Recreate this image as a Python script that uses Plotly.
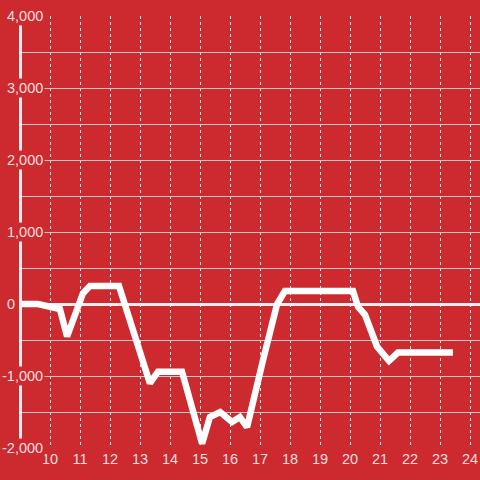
import plotly.graph_objects as go

# ---- data ----
x_vals = [8.9, 9.6, 10.33, 10.57, 11.1, 11.33, 12.3, 13.33, 13.6, 14.4,
          15.07, 15.33, 15.67, 16.07, 16.33, 16.57, 17.1, 17.57, 17.83,
          20.1, 20.27, 20.5, 20.9, 21.17, 21.3, 21.6, 23.43]
y_vals = [0, 0, -70, -450, 150, 250, 250, -1100, -940, -940,
          -1940, -1570, -1500, -1640, -1570, -1710, -780, 0, 180,
          180, -40, -150, -590, -750, -790, -675, -675]

x_ticks = list(range(10, 25))
y_tick_vals = [4000, 3000, 2000, 1000, 0, -1000, -2000]
y_tick_text = ["4,000", "3,000", "2,000", "1,000", "0", "-1,000", "-2,000"]

BG = "#cc2a2f"
LABEL = "rgba(255,255,255,0.86)"
FONT = "Liberation Sans, Arial, sans-serif"

fig = go.Figure()
fig.add_trace(go.Scatter(
    x=x_vals, y=y_vals, mode="lines",
    line=dict(color="#ffffff", width=6.5),
    hoverinfo="skip", showlegend=False,
))

L, R, T, B = 22, 0, 16, 32
W = H = 480
pw = W - L - R

for v, t in zip(y_tick_vals, y_tick_text):
    right_px = 16.5 if t == "0" else 44.5
    fig.add_annotation(
        x=(right_px - L) / pw, xref="paper", xanchor="right",
        y=v, yref="y", yanchor="middle",
        text=t, showarrow=False, bgcolor=BG, borderpad=1,
        font=dict(family=FONT, size=14.5, color=LABEL),
    )

fig.update_layout(
    width=W, height=H,
    margin=dict(l=L, r=R, t=T, b=B),
    paper_bgcolor=BG, plot_bgcolor=BG,
    xaxis=dict(
        range=[10 - 28 / 30, 24 + 10 / 30],
        tickvals=x_ticks, ticktext=[str(v) for v in x_ticks],
        showgrid=True, gridcolor="rgba(255,255,255,0.85)", gridwidth=1, griddash="dot",
        zeroline=False, showline=False, ticks="",
        tickfont=dict(family=FONT, size=14.5, color=LABEL),
        automargin=False,
        fixedrange=True,
    ),
    yaxis=dict(
        range=[-2000, 4000], dtick=500, tick0=0,
        showgrid=True, gridcolor="#c9c9c9", gridwidth=1,
        zeroline=True, zerolinecolor="#eeeeee", zerolinewidth=3,
        showline=True, linecolor="#eeeeee", linewidth=3,
        showticklabels=False, ticks="",
        automargin=False,
        fixedrange=True,
    ),
    font=dict(family=FONT),
)

fig.write_html(
    "out.html",
    config={"displayModeBar": False, "staticPlot": True},
    post_script="document.body.style.margin='0';document.body.style.padding='0';document.body.style.background='%s';" % BG,
)
